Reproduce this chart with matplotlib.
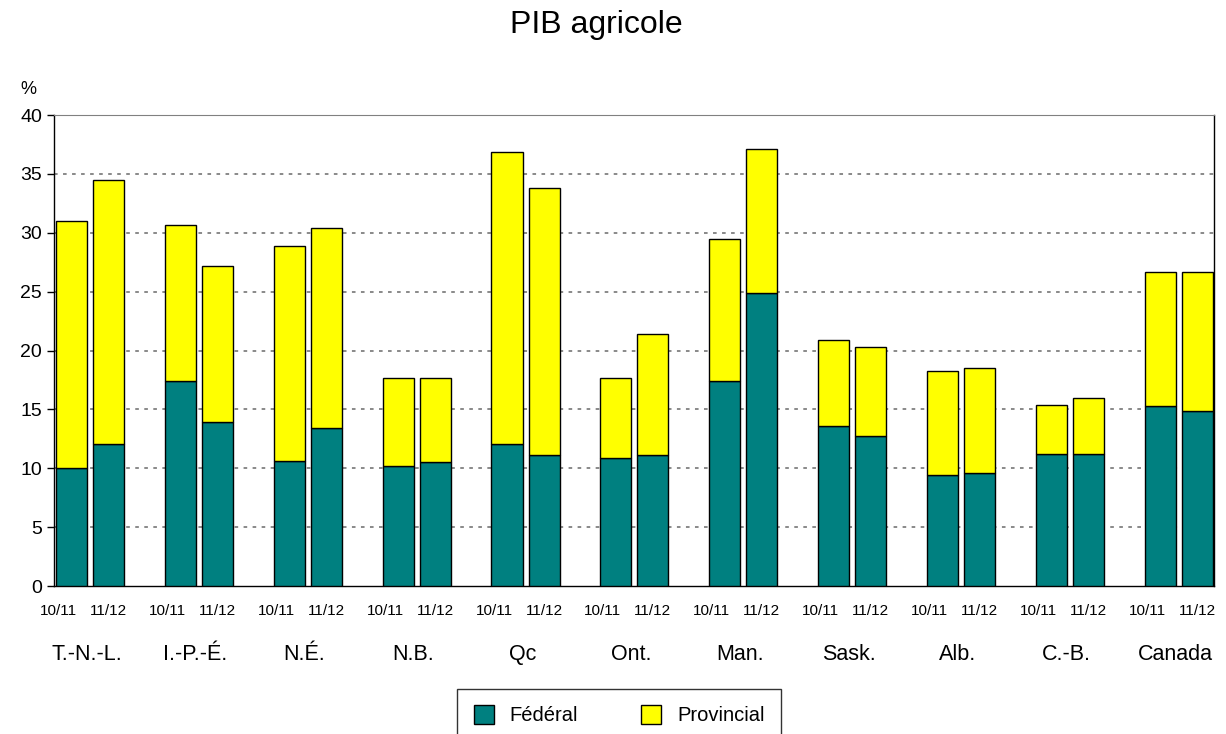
import numpy as np
from matplotlib import pyplot as plt

plt.rcParams['font.family'] = ['Liberation Sans', 'DejaVu Sans']

provinces = ['T.-N.-L.', 'I.-P.-É.', 'N.É.', 'N.B.', 'Qc', 'Ont.', 'Man.', 'Sask.', 'Alb.', 'C.-B.', 'Canada']
years = ['10/11', '11/12']

# federal share and total (federal + provincial), per year
federal_1011 = [10.0, 17.4, 10.6, 10.2, 12.1, 10.9, 17.4, 13.6, 9.4, 11.2, 15.3]
total_1011 = [31.0, 30.7, 28.9, 17.7, 36.9, 17.7, 29.5, 20.9, 18.3, 15.4, 26.7]
federal_1112 = [12.1, 13.9, 13.4, 10.5, 11.1, 11.1, 24.9, 12.7, 9.6, 11.2, 14.9]
total_1112 = [34.5, 27.2, 30.4, 17.7, 33.8, 21.4, 37.1, 20.3, 18.5, 16.0, 26.7]

teal = '#008080'
yellow = '#ffff00'

fig = plt.figure(figsize=(12.26, 7.34), dpi=100)
ax = fig.add_axes([0.044, 0.2016, 0.9462, 0.6417])

g = np.arange(len(provinces))
offset = 0.34
width = 0.285
xs = [g, g + offset]
feds = [np.array(federal_1011), np.array(federal_1112)]
tots = [np.array(total_1011), np.array(total_1112)]

for k in range(2):
    prov = tots[k] - feds[k]
    ax.bar(xs[k], feds[k], width, align='edge', color=teal, edgecolor='black', linewidth=1,
           label='Fédéral' if k == 0 else None, zorder=3)
    ax.bar(xs[k], prov, width, bottom=feds[k], align='edge', color=yellow, edgecolor='black',
           linewidth=1, label='Provincial' if k == 0 else None, zorder=3)

ax.set_ylim(0, 40)
ax.set_yticks(range(0, 41, 5))
ax.set_xlim(-0.0184, 10.6352)

for yv in range(5, 40, 5):
    ax.axhline(yv, color='#808080', linestyle=(0, (2, 3)), linewidth=1.3, zorder=0)
ax.tick_params(axis='y', labelsize=14, length=5, direction='out', width=1)

# year labels under each bar (the first one of each pair sits a little to the left)
tick_pos = np.concatenate([g + width / 2 - 0.12, g + offset + width / 2])
tick_lab = [years[0]] * len(g) + [years[1]] * len(g)
ax.set_xticks(tick_pos)
ax.set_xticklabels(tick_lab, fontsize=11)
ax.tick_params(axis='x', length=0, pad=13)

for i, name in enumerate(provinces):
    ax.text(g[i] + (offset + width) / 2 - 0.03, -0.145, name, transform=ax.get_xaxis_transform(),
            ha='center', va='center', fontsize=15.5)

ax.spines['top'].set_color('#808080')
for s in ['left', 'right', 'bottom']:
    ax.spines[s].set_color('black')
    ax.spines[s].set_linewidth(1)

fig.text(596 / 1226, 1 - 33 / 734, 'PIB agricole', ha='center', va='baseline', fontsize=23)
fig.text(28 / 1226, 1 - 90 / 734, '%', ha='center', va='center', fontsize=13)

leg = fig.legend(loc='upper center', bbox_to_anchor=(619 / 1226, 1 - 689 / 734), ncol=2,
                 fontsize=14.5, frameon=True, fancybox=False, edgecolor='black',
                 handlelength=1.0, handleheight=1.05, handletextpad=0.8, columnspacing=3.1,
                 borderpad=0.8, borderaxespad=0)
leg.get_frame().set_linewidth(1)

fig.savefig('out.png', dpi=100)
